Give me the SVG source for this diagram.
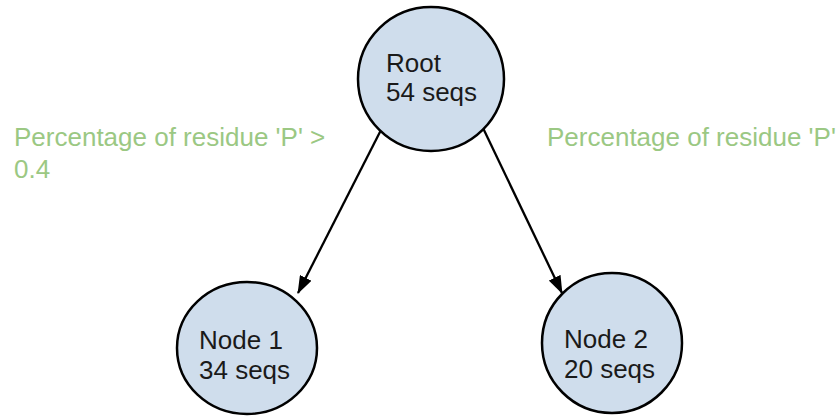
<svg xmlns="http://www.w3.org/2000/svg" width="840" height="417" viewBox="0 0 840 417">
  <defs>
    <marker id="arrow" viewBox="0 0 18 13" refX="17" refY="6.5" markerWidth="18" markerHeight="13" markerUnits="userSpaceOnUse" orient="auto">
      <path d="M0,0 L18,6.5 L0,13 z" fill="#000"/>
    </marker>
    <style>
      .node { fill: #cfddec; stroke: #000; stroke-width: 2.5; }
      .label { font-family: "Liberation Sans", Arial, sans-serif; font-size: 26px; fill: #1a1a1a; }
      .cond { font-family: "Liberation Sans", Arial, sans-serif; font-size: 26px; fill: #9bc883; }
      .edge { stroke: #000; stroke-width: 2.3; fill: none; marker-end: url(#arrow); }
    </style>
  </defs>
  <rect width="840" height="417" fill="#fff"/>

  <g id="connectors">
    <line class="edge" x1="382" y1="128" x2="298" y2="293"/>
    <line class="edge" x1="483" y1="128" x2="562" y2="293"/>
  </g>

  <g id="root">
    <ellipse class="node" cx="431" cy="79" rx="73" ry="72"/>
    <text class="label" x="386" y="72">Root</text>
    <text class="label" x="386" y="101">54 seqs</text>
  </g>

  <g id="node1">
    <ellipse class="node" cx="247" cy="348" rx="70" ry="66"/>
    <text class="label" x="199" y="349">Node 1</text>
    <text class="label" x="199" y="379">34 seqs</text>
  </g>

  <g id="node2">
    <ellipse class="node" cx="612" cy="343" rx="70" ry="70"/>
    <text class="label" x="564" y="348">Node 2</text>
    <text class="label" x="564" y="378">20 seqs</text>
  </g>

  <g id="conditions">
    <text class="cond" x="14" y="146">Percentage of residue 'P' &gt;</text>
    <text class="cond" x="14" y="178">0.4</text>
    <text class="cond" x="547" y="146">Percentage of residue 'P'</text>
  </g>
</svg>
